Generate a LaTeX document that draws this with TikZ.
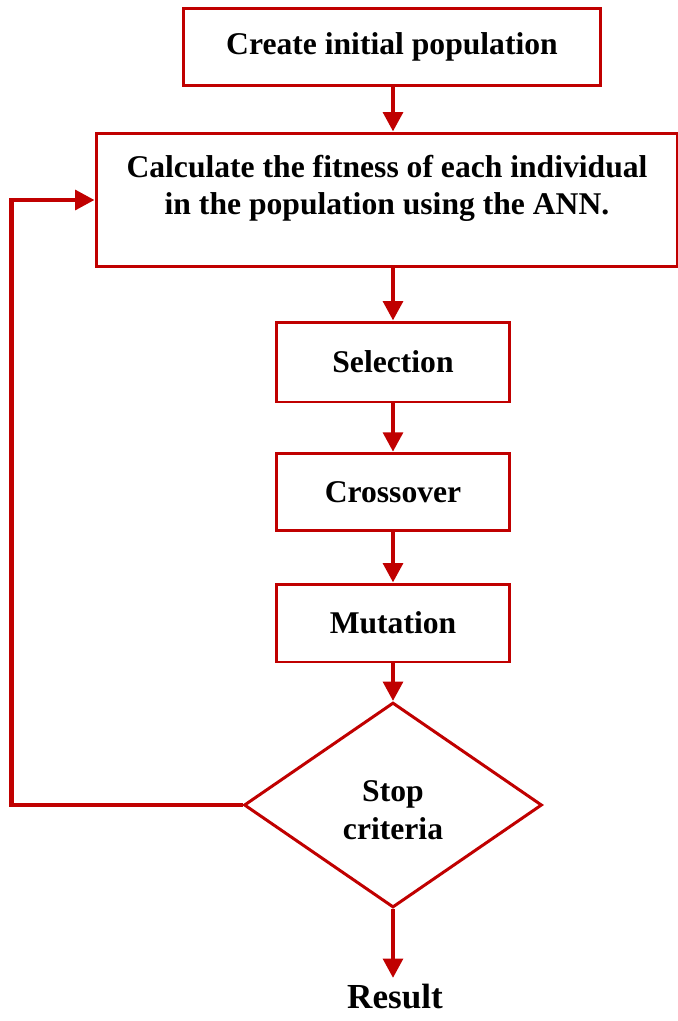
\documentclass[tikz,border=0pt]{standalone}
\usepackage{fontspec}
\setmainfont{Liberation Serif}
\usetikzlibrary{positioning}
\usetikzlibrary{shapes.geometric}
\usetikzlibrary{arrows.meta}
\definecolor{flowred}{HTML}{C00000}
\tikzset{
  stagebox/.style={draw=flowred, line width=1.7pt, align=center, inner sep=0pt,
    font=\fontsize{18}{21}\selectfont\bfseries},
  flowarrow/.style={flowred, line width=2.6pt, -{Triangle[length=11pt,width=11pt]}},
}
\begin{document}
\begin{tikzpicture}[x=0.02cm, y=-0.02cm]
	\useasboundingbox (0,0) rectangle (678,1021);
	\node[stagebox, minimum width=8.36cm, minimum height=1.56cm] (create) at (392,47) {Create initial population};
	\node[stagebox, minimum width=11.64cm, minimum height=2.68cm] (fitness) at (387,200) {Calculate the fitness of each individual\\in the population using the ANN.\\[-4pt]\mbox{}};
	\node[stagebox, minimum width=4.66cm, minimum height=1.6cm] (selection) at (393,362) {Selection};
	\node[stagebox, minimum width=4.66cm, minimum height=1.55cm] (crossover) at (393,492) {Crossover};
	\node[stagebox, minimum width=4.66cm, minimum height=1.56cm] (mutation) at (393,623) {Mutation};
	\node[stagebox, diamond, minimum width=5.96cm, minimum height=4.1cm,
	  label={[align=center, yshift=-3pt, font=\fontsize{18}{22}\selectfont\bfseries]center:Stop\\criteria}] (stop) at (393,805) {};
	\node[anchor=north, inner sep=3pt, font=\fontsize{20}{24}\selectfont\bfseries] (result) at (395,978) {Result};
	\draw[flowarrow] (create.south -| selection) -- (fitness.north -| selection);
	\draw[flowarrow] (fitness.south -| selection) -- (selection);
	\draw[flowarrow] (selection) -- (crossover);
	\draw[flowarrow] (crossover) -- (mutation);
	\draw[flowarrow] (mutation) -- (stop);
	\draw[flowarrow] (stop) -- (result.north -| stop);
	% loop back when the criteria is not met
	\draw[flowarrow] (stop.west) -- ++(-231,0) |- (fitness.west);
\end{tikzpicture}
\end{document}
